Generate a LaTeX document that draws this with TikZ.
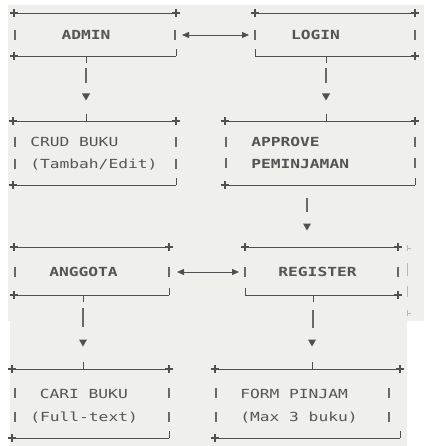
\documentclass[tikz,border=0pt]{standalone}
\usepackage{fontspec}
\usetikzlibrary{arrows.meta,calc}
\newfontfamily\asciimono{DejaVu Sans Mono}
\definecolor{bgc}{RGB}{239,239,235}
\definecolor{lnc}{RGB}{80,80,80}
\definecolor{barc}{RGB}{105,105,105}
\definecolor{txc}{RGB}{85,85,85}
\definecolor{artc}{RGB}{185,185,185}
\tikzset{
  area/.style={rectangle,inner sep=0pt,outer sep=0pt,draw=none},
  bl/.style={draw=lnc,line width=0.9pt},
  pl/.style={draw=lnc,line width=1.2pt},
  barl/.style={draw=barc,line width=1.7pt},
  harr/.style={draw=lnc,line width=0.9pt,
    {Triangle[length=7pt,width=6pt]}-{Triangle[length=7pt,width=6pt]}},
  lbl/.style={inner sep=0pt,text=txc,xscale=1.3,transform shape,
    font=\asciimono\fontsize{12.5}{13}\selectfont},
  lblb/.style={inner sep=0pt,text=txc,xscale=1.3,transform shape,
    font=\asciimono\bfseries\fontsize{12.5}{13}\selectfont},
  artl/.style={draw=artc,line width=0.7pt},
  plusmark/.pic={\draw[pl] (-4,0) -- (4,0) (0,-4) -- (0,4);},
  tickup/.pic={\draw[bl] (0,0) -- (0,-7);},
  tickdown/.pic={\draw[bl] (0,0) -- (0,7);},
  vbar/.pic={\draw[barl] (0,-5) -- (0,5);},
  downtri/.pic={\fill[lnc] (-4,-3.5) -- (4,-3.5) -- (0,3.5) -- cycle;}
}
\newcommand\hborders[1]{\draw[bl] (#1.north west) -- (#1.north east) (#1.south west) -- (#1.south east);}
\begin{document}
\begin{tikzpicture}[x=1pt,y=-1pt]
\useasboundingbox (0,0) rectangle (424,446);
% background patches
\fill[white] (0,0) rectangle (424,446);
\fill[bgc] (8,5) rectangle (424,320.5);
\fill[bgc] (10,320) rectangle (407,446);

% ---------- boxes ----------
\node[area,minimum width=162,minimum height=43] (admin) at (95,34.5) {};
\node[area,minimum width=160,minimum height=43] (login) at (335,34.5) {};
\node[area,minimum width=163,minimum height=64] (crud) at (94.5,153) {};
\node[area,minimum width=190,minimum height=64] (approve) at (320,153) {};
\node[area,minimum width=155,minimum height=48] (anggota) at (91.5,271) {};
\node[area,minimum width=153,minimum height=48] (register) at (321.5,271) {};
\node[area,minimum width=157,minimum height=69] (cari) at (90.5,403.5) {};
\node[area,minimum width=185,minimum height=69] (form) at (307.5,403.5) {};

\hborders{admin}\hborders{login}\hborders{crud}\hborders{approve}
\hborders{anggota}\hborders{register}\hborders{cari}\hborders{form}

% corners
\pic at (admin.north west) {plusmark}; \pic at (admin.north east) {plusmark};
\pic at (admin.south west) {plusmark}; \pic at (admin.south east) {tickup};
\pic at (login.north west) {plusmark}; \pic at (login.north east) {plusmark};
\pic at (login.south west) {tickup};   \pic at (login.south east) {plusmark};
\pic at (crud.north west) {plusmark};  \pic at (crud.north east) {plusmark};
\pic at (crud.south west) {plusmark};  \pic at (crud.south east) {tickup};
\pic at (approve.north west) {plusmark}; \pic at (approve.north east) {plusmark};
\pic at (approve.south west) {plusmark}; \pic at (approve.south east) {tickup};
\pic at (anggota.north west) {plusmark}; \pic at (anggota.north east) {plusmark};
\pic at (anggota.south west) {plusmark}; \pic at (anggota.south east) {tickup};
\pic at (register.north west) {plusmark}; \pic at (register.north east) {plusmark};
\pic at (register.south west) {tickup};   \pic at (register.south east) {plusmark};
\pic at (cari.north west) {plusmark}; \pic at (cari.north east) {plusmark};
\pic at (cari.south west) {plusmark}; \pic at (cari.south east) {tickup};
\pic at (form.north west) {plusmark}; \pic at (form.north east) {plusmark};
\pic at (form.south west) {plusmark}; \pic at (form.south east) {tickup};

% side bars
\pic at (15,35) {vbar}; \pic at (175,35) {vbar};
\pic at (255,35) {vbar}; \pic at (415,35) {vbar};
\pic at (15,142.5) {vbar}; \pic at (176,142.5) {vbar};
\pic at (15,164) {vbar}; \pic at (176,164) {vbar};
\pic at (226,142) {vbar}; \pic at (415,142) {vbar};
\pic at (226,163.5) {vbar}; \pic at (415,163.5) {vbar};
\pic at (15,272) {vbar}; \pic at (169,272) {vbar};
\pic at (245,272) {vbar}; \pic at (398,272) {vbar};
\pic at (15,393) {vbar}; \pic at (169,393) {vbar};
\pic at (15,417) {vbar}; \pic at (169,417) {vbar};
\pic at (216,393) {vbar}; \pic at (389,393) {vbar};
\pic at (216,417) {vbar}; \pic at (389,417) {vbar};

% ---------- labels ----------
\node[lblb,anchor=base] (admint) at (86,39.3) {ADMIN};
\node[lblb,anchor=base] (logint) at (315.5,39.3) {LOGIN};
\node[lbl,anchor=base west] (crudt1) at (30,146.7) {CRUD BUKU};
\node[lbl,anchor=base west] (crudt2) at (30,168.3) {(Tambah/Edit)};
\node[lblb,anchor=base west] (appt1) at (251,146.5) {APPROVE};
\node[lblb,anchor=base west] (appt2) at (251,168) {PEMINJAMAN};
\node[lblb,anchor=base] (anggt) at (83.5,276.6) {ANGGOTA};
\node[lblb,anchor=base] (regt) at (317.5,276.6) {REGISTER};
\node[lbl,anchor=base west] (carit1) at (39.5,398) {CARI BUKU};
\node[lbl,anchor=base west] (carit2) at (30,421.5) {(Full-text)};
\node[lbl,anchor=base west] (formt1) at (240,398) {FORM PINJAM};
\node[lbl,anchor=base west] (formt2) at (240,421.5) {(Max 3 buku)};

% ---------- vertical connectors ----------
% admin -> crud
\coordinate (a1) at ($(admin.south west)+(72,0)$);
\coordinate (a2) at ($(crud.north west)+(73,0)$);
\pic at (a1) {tickdown};
\draw[barl] ($(a1)+(0,12)$) -- ($(a1)+(0,27)$);
\pic at ($(a2)+(0,-24)$) {downtri};
\pic at (a2) {tickup};
% login -> approve
\coordinate (b1) at ($(login.south west)+(71,0)$);
\coordinate (b2) at ($(approve.north west)+(101,0)$);
\pic at (b1) {tickdown};
\draw[barl] ($(b1)+(0,12)$) -- ($(b1)+(0,27)$);
\pic at ($(b2)+(0,-24)$) {downtri};
\pic at (b2) {tickup};
% approve -> register
\coordinate (c1) at ($(approve.south west)+(82,0)$);
\coordinate (c2) at ($(register.north west)+(62,0)$);
\draw[barl] ($(c1)+(0,13)$) -- ($(c1)+(0,27)$);
\pic at ($(c2)+(0,-20)$) {downtri};
% anggota -> cari
\coordinate (d1) at ($(anggota.south west)+(69,0)$);
\coordinate (d2) at ($(cari.north west)+(71,0)$);
\pic at (d1) {tickdown};
\draw[barl] ($(d1)+(0,13)$) -- ($(d1)+(0,32)$);
\pic at ($(d2)+(0,-26)$) {downtri};
\pic at (d2) {tickup};
% register -> form
\coordinate (e1) at ($(register.south west)+(68,0)$);
\coordinate (e2) at ($(form.north west)+(97,0)$);
\pic at (e1) {tickdown};
\draw[barl] ($(e1)+(0,15)$) -- ($(e1)+(0,33)$);
\pic at ($(e2)+(0,-26)$) {downtri};
\pic at (e2) {tickup};

% ---------- horizontal two-way arrows ----------
\draw[harr] ($(admin.east)+(6,0.5)$) -- ($(login.west)+(-6,0.5)$);
\draw[harr] ($(anggota.east)+(8,1)$) -- ($(register.west)+(-6,1)$);

% ---------- clipped fragments at the right of REGISTER ----------
\draw[artl] (407,245) -- (407,251) (407,248) -- (411,248);
\draw[artl] (407,263) -- (407,276) (407,286) -- (407,297);
\draw[artl] (407,310) -- (407,316) (407,313) -- (411,313);
\end{tikzpicture}
\end{document}
